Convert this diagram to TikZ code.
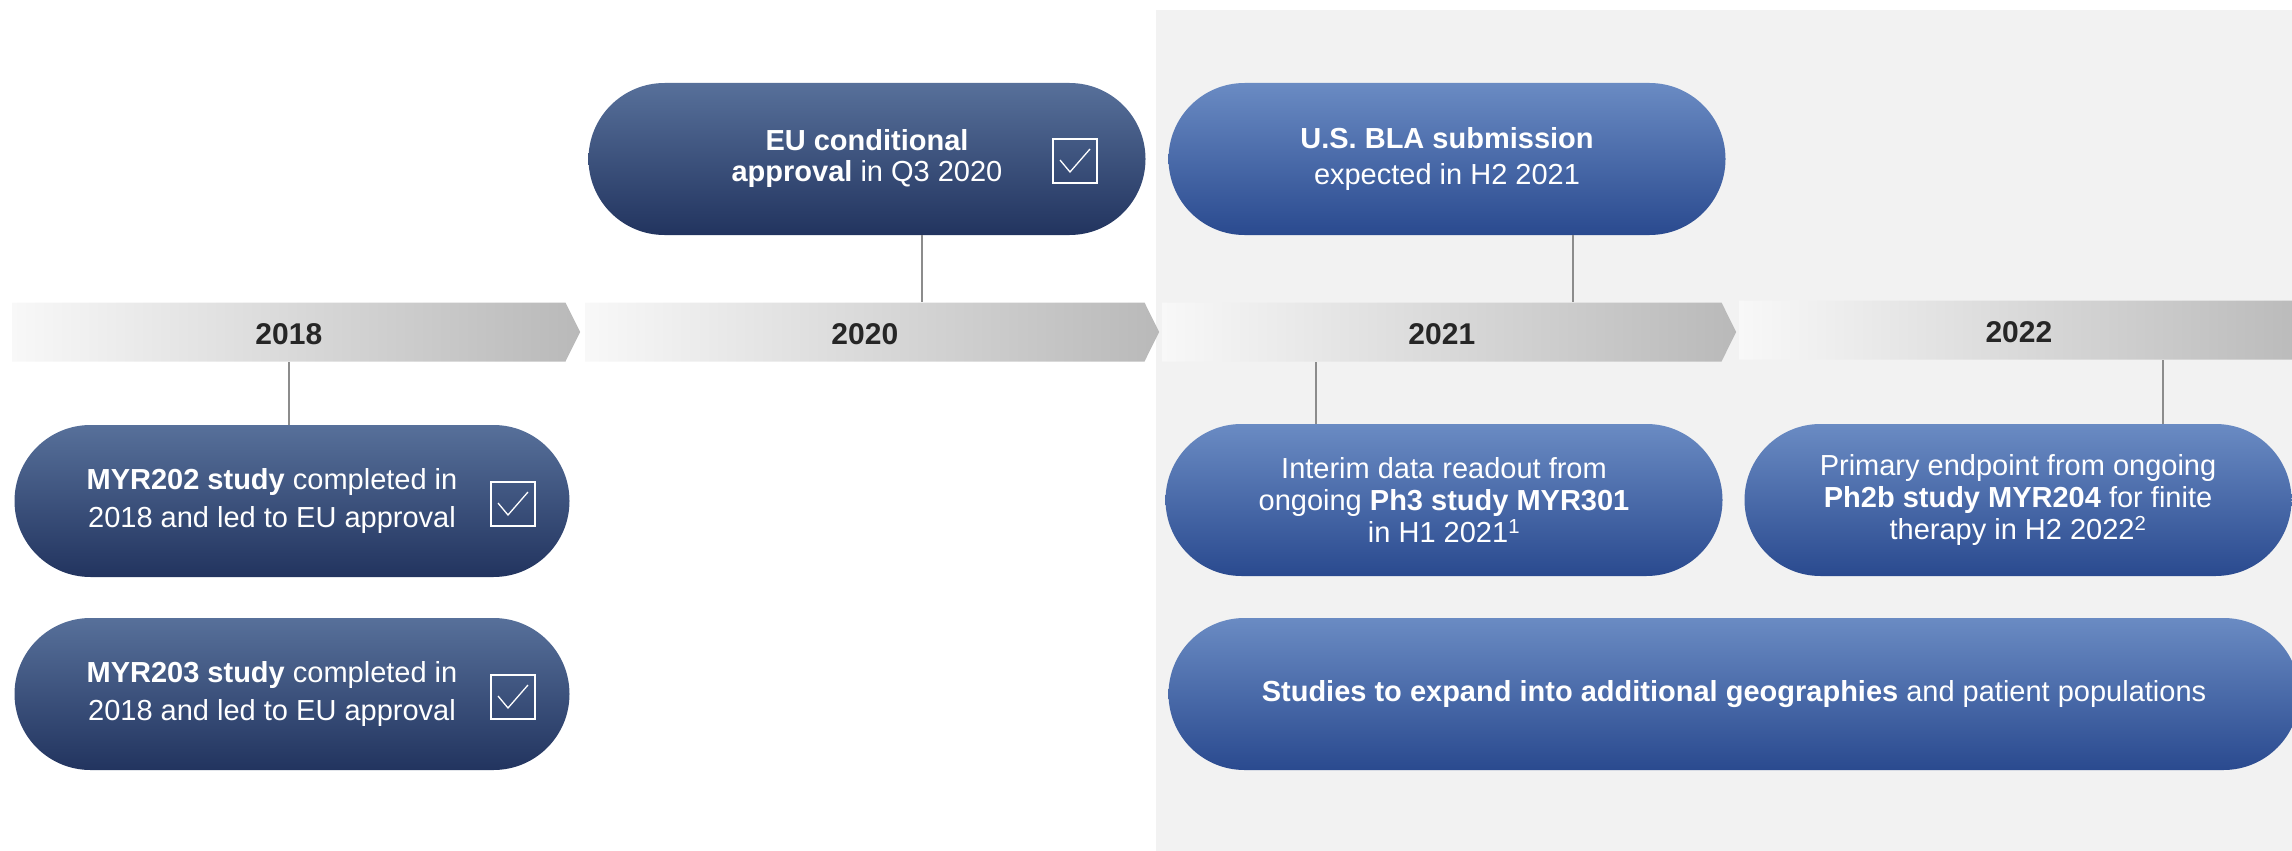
\documentclass[tikz,border=0pt]{standalone}
\usepackage{fontspec}
\setmainfont{Liberation Sans}
\usepackage{tikz}
\usetikzlibrary{shapes.symbols,shadings}
\definecolor{navyTop}{HTML}{57709A}
\definecolor{navyBot}{HTML}{22345F}
\definecolor{blueTop}{HTML}{6A8BC3}
\definecolor{blueBot}{HTML}{2A4A8F}
\definecolor{bandL}{HTML}{F8F8F8}
\definecolor{bandR}{HTML}{B9B9B9}
\definecolor{panel}{HTML}{F2F2F2}
\definecolor{linkGray}{HTML}{8C8C8C}
\def\pillfont{\fontsize{29}{36}\selectfont}
\def\yearfont{\fontsize{30}{36}\selectfont\bfseries}
\tikzset{
  pill/.style={rectangle, rounded corners=76, minimum width=557, minimum height=152,
    inner sep=0, text=white, align=center, font=\pillfont},
  navy/.style={pill, top color=navyTop, bottom color=navyBot},
  blue/.style={pill, top color=blueTop, bottom color=blueBot},
  pilltext/.style={text=white, align=center, font=\fontsize{29}{38}\selectfont},
  band/.style={signal, signal to=east, signal pointer angle=127, minimum height=59,
    minimum width=574, inner sep=0, anchor=west, left color=bandL, right color=bandR,
    text=black!85, font=\yearfont, text height=26},
  tickbox/.style={draw=white, line width=2, minimum size=44, inner sep=0},
  link/.style={draw=linkGray, line width=1.5},
}
\begin{document}
\begin{tikzpicture}[x=1pt,y=-1pt]
\useasboundingbox (0,0) rectangle (2292,851);
\fill[panel] (1156,10) rectangle (2292,851);
% years
\node[band, minimum width=568] (y2018) at (12,332) {2018};
\node[band] (y2020) at (585,332) {2020};
\node[band] (y2021) at (1162,332) {2021};
\node[band] (y2022) at (1739,330) {2022};
% milestones
\node[navy, font=\fontsize{29}{31}\selectfont] (eu) at (867,159) {\textbf{EU conditional}\\\textbf{approval} in Q3 2020};
\node[blue] (bla) at (1447,159) {\textbf{U.S. BLA submission}\\expected in H2 2021};
\node[navy, minimum width=555] (myra) at (292,501) {};
\node[navy, minimum width=555] (myrb) at (292,694) {};
\node[pilltext] (myratxt) at ([xshift=-20]myra.center) {\textbf{MYR202 study} completed in\\2018 and led to EU approval};
\node[pilltext] (myrbtxt) at ([xshift=-20]myrb.center) {\textbf{MYR203 study} completed in\\2018 and led to EU approval};
\node[blue, font=\fontsize{29}{32}\selectfont] (interim) at (1444,500) {Interim data readout from\\ongoing \textbf{Ph3 study MYR301}\\in H1 2021\textsuperscript{1}};
\node[blue, minimum width=547, font=\fontsize{29}{32}\selectfont] (primary) at (2018,500) {Primary endpoint from ongoing\\\textbf{Ph2b study MYR204} for finite\\therapy in H2 2022\textsuperscript{2}};
\node[blue, minimum width=1131] (studies) at (1734,694) {\textbf{Studies to expand into additional geographies} and patient populations};
% ticks
\foreach \n/\p in {ckeu/{(1075,161)}, cka/{(513,504)}, ckb/{(513,697)}}{
  \node[tickbox] (\n) at \p {};
  \draw[white, line width=1.3] ([shift={(-15,-1)}]\n.center) -- ([shift={(-5,11)}]\n.center) -- ([shift={(15,-12)}]\n.center);
}
% links
\draw[link] ([xshift=55]eu.south) -- ([xshift=55]eu.south |- y2020.north);
\draw[link] ([xshift=126]bla.south) -- ([xshift=126]bla.south |- y2021.north);
\draw[link] (myra.north -| 289,0) -- (y2018.south -| 289,0);
\draw[link] ([xshift=-128]interim.north) -- ([xshift=-128]interim.north |- y2021.south);
\draw[link] ([xshift=145]primary.north) -- ([xshift=145]primary.north |- y2022.south);
\end{tikzpicture}
\end{document}
